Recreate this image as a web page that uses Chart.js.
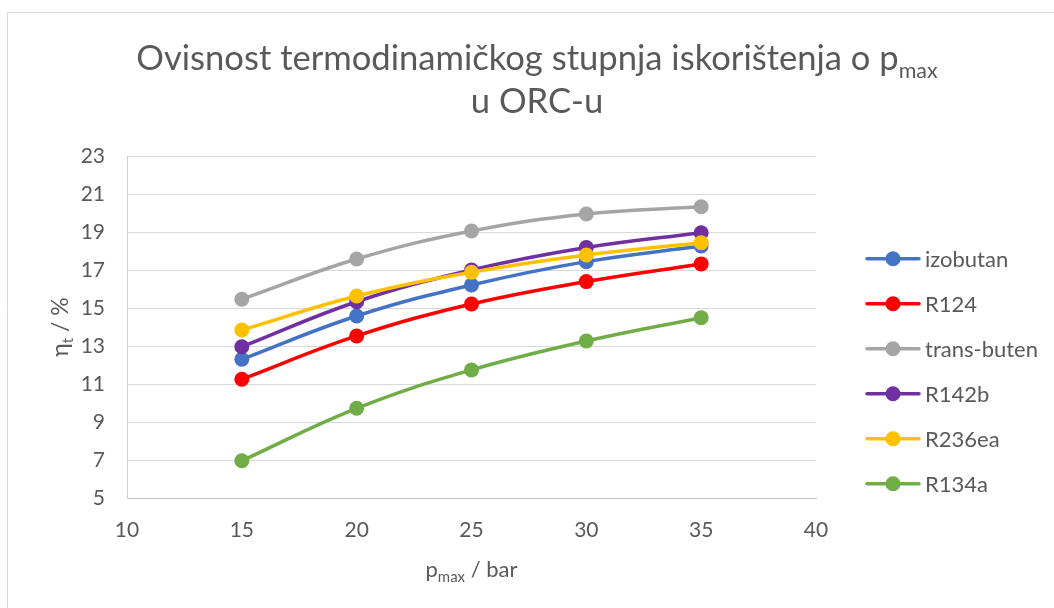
<!DOCTYPE html>
<html>
<head>
<meta charset="utf-8">
<script src="https://cdn.jsdelivr.net/npm/chart.js@4"></script>
<style>
html,body{margin:0;padding:0;background:#fff;}
#wrap{position:relative;width:1054px;height:608px;}
</style>
</head>
<body>
<div id="wrap"><canvas id="c" width="1054" height="608"></canvas></div>
<script>
// ---- data ----
const pressures = [15, 20, 25, 30, 35];
const seriesNames = ['izobutan', 'R124', 'trans-buten', 'R142b', 'R236ea', 'R134a'];
const izobutan   = [12.30, 14.58, 16.21, 17.44, 18.26];
const r124       = [11.25, 13.53, 15.21, 16.39, 17.32];
const transButen = [15.46, 17.58, 19.05, 19.95, 20.33];
const r142b      = [12.96, 15.33, 17.00, 18.18, 18.96];
const r236ea     = [13.84, 15.63, 16.88, 17.79, 18.44];
const r134a      = [6.96, 9.72, 11.74, 13.26, 14.49];
const xTicks = [10, 15, 20, 25, 30, 35, 40];
const yTicks = [5, 7, 9, 11, 13, 15, 17, 19, 21, 23];
const titleLine1 = [['Ovisnost termodinamičkog stupnja iskorištenja o p', false], ['max', true]];
const titleLine2 = 'u ORC-u';
const xTitle = [['p', false], ['max', true], [' / bar', false]];
const yTitle = [['η', false], ['t', true], [' / %', false]];

const seriesValues = [izobutan, r124, transButen, r142b, r236ea, r134a];
const seriesColors = ['#4472C4', '#FF0000', '#A5A5A5', '#7030A0', '#FFC000', '#70AD47'];

const FONT = 'Lato, "Open Sans", sans-serif';
const TXT = '#595959';

function drawParts(ctx, parts, size, subSize, subDrop, x, y, align) {
  let total = 0;
  const widths = parts.map(([t, sub]) => {
    ctx.font = (sub ? subSize : size) + 'px ' + FONT;
    const w = ctx.measureText(t).width;
    total += w;
    return w;
  });
  let cx = align === 'center' ? x - total / 2 : x;
  ctx.textAlign = 'left';
  ctx.textBaseline = 'alphabetic';
  parts.forEach(([t, sub], i) => {
    ctx.font = (sub ? subSize : size) + 'px ' + FONT;
    ctx.fillText(t, cx, y + (sub ? subDrop : 0));
    cx += widths[i];
  });
  return total;
}

const decorPlugin = {
  id: 'decor',
  beforeDraw(chart) {
    const ctx = chart.ctx;
    ctx.save();
    ctx.fillStyle = '#fff';
    ctx.fillRect(0, 0, chart.width, chart.height);
    ctx.strokeStyle = '#d9d9d9';
    ctx.lineWidth = 1;
    ctx.beginPath();
    ctx.moveTo(7.5, 620);
    ctx.lineTo(7.5, 12.5);
    ctx.lineTo(1070, 12.5);
    ctx.stroke();
    ctx.restore();
  },
  afterDraw(chart) {
    const ctx = chart.ctx;
    const area = chart.chartArea;
    ctx.save();
    ctx.fillStyle = TXT;
    ctx.font = '100px ' + FONT;
    const w100 = ctx.measureText(titleLine1[0][0]).width;
    const tSize = Math.round(100 * 762 / w100 * 10) / 10;
    const tCenter = 537;
    drawParts(ctx, titleLine1, tSize, tSize * 0.62, 8, tCenter, 69.5, 'center');
    ctx.font = tSize + 'px ' + FONT;
    ctx.textAlign = 'center';
    ctx.fillText(titleLine2, tCenter, 112.5);

    ctx.fillStyle = TXT;
    drawParts(ctx, xTitle, 22, 15, 5, (area.left + area.right) / 2, 577, 'center');

    ctx.save();
    ctx.translate(68, (area.top + area.bottom) / 2);
    ctx.rotate(-Math.PI / 2);
    drawParts(ctx, yTitle, 23, 15, 5, 0, 0, 'center');
    ctx.restore();

    chart.data.datasets.forEach((ds, i) => {
      const y = 258.7 + 45 * i;
      ctx.strokeStyle = ds.borderColor;
      ctx.lineWidth = 3.5;
      ctx.lineCap = 'round';
      ctx.beginPath();
      ctx.moveTo(867, y);
      ctx.lineTo(919, y);
      ctx.stroke();
      ctx.fillStyle = ds.backgroundColor;
      ctx.beginPath();
      ctx.arc(893, y, 7.5, 0, Math.PI * 2);
      ctx.fill();
      ctx.fillStyle = TXT;
      ctx.font = '22px ' + FONT;
      ctx.textAlign = 'left';
      ctx.textBaseline = 'middle';
      ctx.fillText(ds.label, 925, y + 1);
    });
    ctx.restore();
  }
};

function build() {
  const datasets = seriesNames.map((name, i) => ({
    label: name,
    data: pressures.map((p, j) => ({ x: p, y: seriesValues[i][j] })),
    borderColor: seriesColors[i],
    backgroundColor: seriesColors[i],
    pointBackgroundColor: seriesColors[i],
    pointBorderColor: seriesColors[i],
    borderWidth: 3.5,
    pointRadius: 7.5,
    pointBorderWidth: 0,
    tension: 0.4,
    order: -i
  }));

  new Chart(document.getElementById('c'), {
    type: 'line',
    data: { datasets },
    options: {
      responsive: false,
      animation: false,
      devicePixelRatio: 1,
      layout: { padding: { left: 0, top: 156, right: 238, bottom: 0 } },
      plugins: { legend: { display: false }, title: { display: false }, tooltip: { enabled: false } },
      scales: {
        x: {
          type: 'linear',
          min: 10, max: 40,
          afterBuildTicks: s => { s.ticks = xTicks.map(v => ({ value: v })); },
          afterFit: s => { s.height = 110; },
          grid: { display: false, drawTicks: false },
          border: { display: true, color: '#bfbfbf', width: 1 },
          ticks: { color: TXT, font: { family: FONT, size: 21 }, padding: 20, maxRotation: 0 }
        },
        y: {
          type: 'linear',
          min: 5, max: 23,
          afterBuildTicks: s => { s.ticks = yTicks.map(v => ({ value: v })); },
          afterFit: s => { s.width = 127; },
          grid: { color: '#d9d9d9', lineWidth: 1, drawTicks: false },
          border: { display: true, color: '#d0d0d0', width: 1 },
          ticks: { color: TXT, font: { family: FONT, size: 21 }, padding: 22 }
        }
      }
    },
    plugins: [decorPlugin]
  });
}

if (document.fonts && document.fonts.load) {
  Promise.all([document.fonts.load('22px Lato')]).then(build, build);
} else {
  build();
}
</script>
</body>
</html>
